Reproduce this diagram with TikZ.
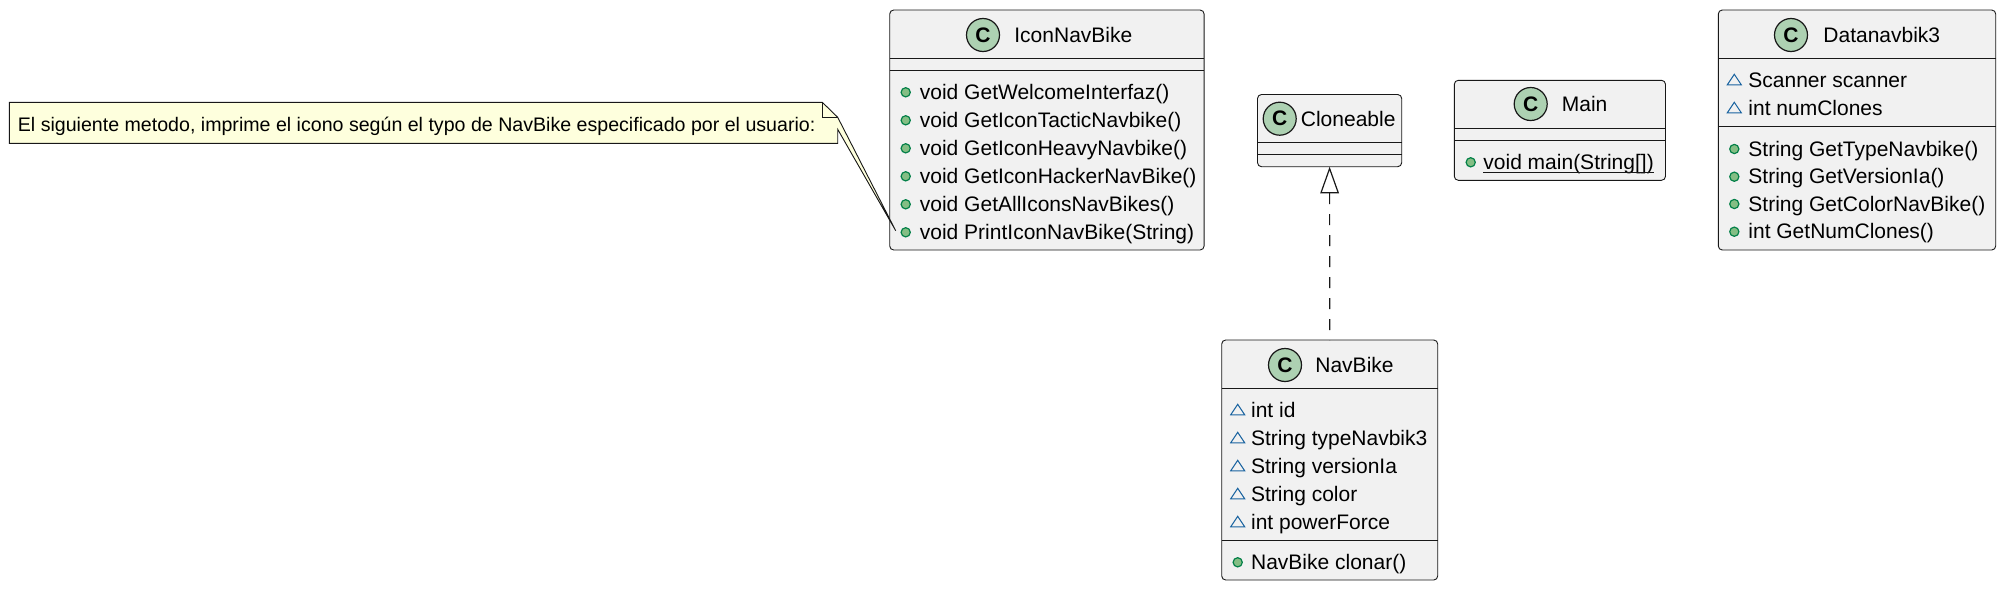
\documentclass[tikz,border=0pt]{standalone}
\usepackage{fontspec}
\setmainfont{Liberation Sans}
\usetikzlibrary{arrows.meta}

\definecolor{boxfill}{HTML}{F1F1F1}
\definecolor{boxline}{HTML}{181818}
\definecolor{spotfill}{HTML}{ADD1B2}
\definecolor{notefill}{HTML}{FEFFDD}
\definecolor{pubfill}{HTML}{84BE84}
\definecolor{publine}{HTML}{038048}
\definecolor{pkgline}{HTML}{1963A0}

\tikzset{
  classbox/.style={draw=boxline,fill=boxfill,line width=0.45pt,rounded corners=2pt,
    anchor=north west,inner sep=0pt,outer sep=0pt},
  classrule/.style={draw=boxline,line width=0.45pt},
  spot/.style={circle,draw=boxline,fill=spotfill,line width=0.6pt,minimum size=16.5pt,
    inner sep=0pt,font=\fontsize{10.5}{12}\selectfont\bfseries},
  title/.style={anchor=base west,inner sep=0pt,font=\fontsize{10.5}{12}\selectfont},
  member/.style={anchor=base west,inner sep=0pt,font=\fontsize{10.5}{12}\selectfont},
  pubdot/.style={circle,draw=publine,fill=pubfill,line width=0.6pt,minimum size=4.6pt,inner sep=0pt},
  pkgmark/.style={draw=pkgline,line width=0.5pt,line join=miter},
  implements/.style={draw=boxline,line width=0.6pt,dash pattern=on 5.5pt off 5pt,
    {Triangle[open,length=13.3pt,width=9.3pt]}-},
}

\begin{document}
\begin{tikzpicture}[x=0.5pt,y=-0.5pt]
  \useasboundingbox (0,0) rectangle (2004,589);

  % IconNavBike
  \node[classbox,minimum width=157.2pt,minimum height=120pt] (IconNavBike) at (889.7,10) {};
  \draw[classrule] (IconNavBike.west |- 0,58.3) -- (IconNavBike.east |- 0,58.3);
  \draw[classrule] (IconNavBike.west |- 0,70.3) -- (IconNavBike.east |- 0,70.3);
  \node[spot] (IconNavBikeSpot) at (983,35) {C};
  \node[title] (IconNavBikeTitle) at (1014,42.7) {IconNavBike};
  \foreach \i/\y/\txt in {1/92.3/void GetWelcomeInterfaz(),2/120.3/void GetIconTacticNavbike(),
      3/148.3/void GetIconHeavyNavbike(),4/176.3/void GetIconHackerNavBike(),
      5/204.3/void GetAllIconsNavBikes(),6/232.3/void PrintIconNavBike(String)} {
    \node[pubdot] (IconNavBikeDot\i) at (905.7,\y) {};
    \node[member] (IconNavBikeRow\i) at (919.5,\y+7) {\txt};
  }

  % nota con su cola hacia PrintIconNavBike
  \draw[draw=boxline,fill=notefill,line width=0.45pt] (9.3,102.3) -- (822.3,102.3) -- (837.7,117.3)
    -- (895.7,230.7) -- (837.7,129.3) -- (837.7,143.3) -- (9.3,143.3) -- cycle;
  \draw[draw=boxline,line width=0.45pt] (822.3,102.3) -- (822.3,117.3) -- (837.7,117.3);
  \node[anchor=base west,inner sep=0pt,font=\fontsize{9.8}{11}\selectfont] (NoteText) at (17.5,131)
    {El siguiente metodo, imprime el icono según el typo de NavBike especificado por el usuario:};

  % Cloneable
  \node[classbox,minimum width=72.1pt,minimum height=36.1pt] (Cloneable) at (1257.5,94.5) {};
  \draw[classrule] (Cloneable.west |- 0,142.3) -- (Cloneable.east |- 0,142.3);
  \draw[classrule] (Cloneable.west |- 0,154.3) -- (Cloneable.east |- 0,154.3);
  \node[spot] (CloneableSpot) at (1279.7,118.7) {C};
  \node[title] (CloneableTitle) at (1300.5,126.4) {Cloneable};

  % Main
  \node[classbox,minimum width=105.6pt,minimum height=50pt] (Main) at (1454.3,80.3) {};
  \draw[classrule] (Main.west |- 0,128.3) -- (Main.east |- 0,128.3);
  \draw[classrule] (Main.west |- 0,140.3) -- (Main.east |- 0,140.3);
  \node[spot] (MainSpot) at (1530.7,104) {C};
  \node[title] (MainTitle) at (1561.5,111.7) {Main};
  \node[pubdot] (MainDot1) at (1470.7,162.3) {};
  \node[member] (MainRow1) at (1483,169.3) {void main(String[])};
  \draw[line width=0.7pt,draw=boxline] ([yshift=-1.5pt]MainRow1.base west) -- ([yshift=-1.5pt]MainRow1.base east);

  % Datanavbik3
  \node[classbox,minimum width=138.7pt,minimum height=120pt] (Datanavbik3) at (1718.3,10) {};
  \draw[classrule] (Datanavbik3.west |- 0,58.3) -- (Datanavbik3.east |- 0,58.3);
  \draw[classrule] (Datanavbik3.west |- 0,126.7) -- (Datanavbik3.east |- 0,126.7);
  \node[spot] (Datanavbik3Spot) at (1791,35) {C};
  \node[title] (Datanavbik3Title) at (1823,42.7) {Datanavbik3};
  \foreach \i/\y/\txt in {1/80.3/Scanner scanner,2/108.3/int numClones} {
    \draw[pkgmark] (1734.3,\y-6) -- (1741.3,\y+4.5) -- (1727.3,\y+4.5) -- cycle;
    \node[member] (Datanavbik3Attr\i) at (1748,\y+7) {\txt};
  }
  \foreach \i/\y/\txt in {1/149/String GetTypeNavbike(),2/176.7/String GetVersionIa(),
      3/204/String GetColorNavBike(),4/231.7/int GetNumClones()} {
    \node[pubdot] (Datanavbik3Dot\i) at (1734.3,\y) {};
    \node[member] (Datanavbik3Row\i) at (1748,\y+7) {\txt};
  }

  % NavBike
  \node[classbox,minimum width=108pt,minimum height=120pt] (NavBike) at (1221.7,340) {};
  \draw[classrule] (NavBike.west |- 0,388.3) -- (NavBike.east |- 0,388.3);
  \draw[classrule] (NavBike.west |- 0,540.3) -- (NavBike.east |- 0,540.3);
  \node[spot] (NavBikeSpot) at (1285,365) {C};
  \node[title] (NavBikeTitle) at (1315,372.7) {NavBike};
  \foreach \i/\y/\txt in {1/410.3/int id,2/438.3/String typeNavbik3,3/466.3/String versionIa,
      4/494.3/String color,5/522.3/int powerForce} {
    \draw[pkgmark] (1237.7,\y-6) -- (1244.7,\y+4.5) -- (1230.7,\y+4.5) -- cycle;
    \node[member] (NavBikeAttr\i) at (1250.7,\y+7) {\txt};
  }
  \node[pubdot] (NavBikeDot1) at (1237.7,562.3) {};
  \node[member] (NavBikeRow1) at (1250.7,569.3) {NavBike clonar()};

  % NavBike implementa Cloneable
  \draw[implements] (Cloneable.south) -- (NavBike.north);
\end{tikzpicture}
\end{document}
